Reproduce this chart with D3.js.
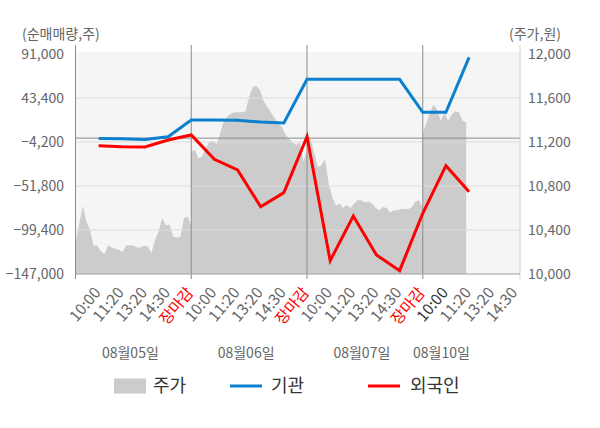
<!DOCTYPE html>
<html>
<head>
<meta charset="utf-8">
<script src="https://cdn.jsdelivr.net/npm/d3@7"></script>
<style>
  body { margin: 0; background: #fff; }
  svg { display: block; font-family: "Noto Sans CJK KR", "Noto Sans", sans-serif; }
</style>
</head>
<body>
<div id="chart"></div>
<script>
// Data
const days = ['08월05일', '08월06일', '08월07일', '08월10일'];
const slotLabels = [
  '10:00', '11:20', '13:20', '14:30', '장마감',
  '10:00', '11:20', '13:20', '14:30', '장마감',
  '10:00', '11:20', '13:20', '14:30', '장마감',
  '10:00', '11:20', '13:20', '14:30'
];
const leftTicks = [91000, 43400, -4200, -51800, -99400, -147000];
const rightTicks = [12000, 11600, 11200, 10800, 10400, 10000];

// net buying (shares), one value per time slot starting at slot 1
const institution = [-300, -800, -1500, 1500, 19600, 19600, 19300, 17400, 16300,
  63600, 63600, 63600, 63600, 63600, 27900, 27900, 87400];
const foreign = [-8200, -9300, -9600, -2000, 3400, -22900, -34500, -74200, -59000,
  1500, -132600, -84300, -126400, -143400, -81300, -29800, -58000];

// intraday price (won), 32 steps per trading day
const priceDay1 = [10280, 10450, 10620, 10480, 10400, 10260, 10260, 10210, 10180, 10260, 10240,
  10230, 10220, 10200, 10260, 10260, 10260, 10240, 10240, 10260, 10250, 10190, 10310,
  10390, 10510, 10440, 10450, 10340, 10330, 10340, 10510, 10520, 10440];
const priceDay2 = [11110, 11130, 11050, 11070, 11140, 11200, 11210, 11180, 11280, 11390, 11430,
  11460, 11470, 11470, 11470, 11480, 11610, 11700, 11710, 11670, 11570, 11520, 11470,
  11420, 11370, 11340, 11270, 11230, 11200, 11170, 11200, 11020, 11130];
const priceDay3 = [11280, 11230, 11100, 10970, 10990, 11040, 10820, 10700, 10620, 10640, 10600,
  10630, 10600, 10640, 10670, 10670, 10650, 10660, 10640, 10600, 10580, 10610, 10600,
  10560, 10580, 10580, 10590, 10590, 10590, 10610, 10660, 10670, 10600];
const priceDay4 = [11280, 11370, 11470, 11540, 11490, 11390, 11470, 11390, 11450, 11480, 11470,
  11390, 11380];

const priceDays = [priceDay1, priceDay2, priceDay3, priceDay4];
const slotsPerDay = 5;
const stepsPerDay = 32;

const priceData = priceDays.flatMap((prices, d) => prices.map((p, k) => ({
  slot: d * slotsPerDay + k * slotsPerDay / stepsPerDay,
  price: p
})));
const instData = institution.map((v, i) => ({ slot: i + 1, value: v }));
const foreignData = foreign.map((v, i) => ({ slot: i + 1, value: v }));

// Dimensions
const dimensions = {
  width: 600,
  height: 428,
  left: 75.5,
  right: 520,
  top: 54,
  bottom: 274
};

const svg = d3.select('#chart')
  .append('svg')
  .attr('width', dimensions.width)
  .attr('height', dimensions.height);

// Scales
const xScale = d3.scaleLinear()
  .domain([0, 19.2])
  .range([dimensions.left, dimensions.right]);

const yLeft = d3.scaleLinear()
  .domain([-147000, 91000])
  .range([dimensions.bottom, dimensions.top]);

const yRight = d3.scaleLinear()
  .domain([10000, 12000])
  .range([dimensions.bottom, dimensions.top]);

// Plot background
svg.append('rect')
  .attr('x', dimensions.left)
  .attr('y', dimensions.top - 2)
  .attr('width', dimensions.right - dimensions.left)
  .attr('height', dimensions.bottom - dimensions.top + 2)
  .attr('fill', '#f5f5f5');

// Price area
const area = d3.area()
  .x(d => xScale(d.slot))
  .y0(dimensions.bottom)
  .y1(d => yRight(d.price));

svg.append('path')
  .datum(priceData)
  .attr('d', area)
  .attr('fill', '#cccccc');

// Grid lines
svg.append('g')
  .selectAll('line')
  .data(leftTicks.slice(1, -1))
  .join('line')
  .attr('x1', dimensions.left)
  .attr('x2', dimensions.right)
  .attr('y1', d => yLeft(d))
  .attr('y2', d => yLeft(d))
  .attr('stroke', '#dddddd')
  .attr('stroke-width', 1);

// zero line
svg.append('line')
  .attr('x1', dimensions.left)
  .attr('x2', dimensions.right)
  .attr('y1', yLeft(0))
  .attr('y2', yLeft(0))
  .attr('stroke', '#8c8c8c')
  .attr('stroke-width', 1);

// day separators + left axis line
svg.append('g')
  .selectAll('line')
  .data(d3.range(0, days.length).map(d => d * slotsPerDay))
  .join('line')
  .attr('x1', d => xScale(d))
  .attr('x2', d => xScale(d))
  .attr('y1', 45)
  .attr('y2', dimensions.bottom + 5)
  .attr('stroke', '#8c8c8c')
  .attr('stroke-width', 1);

// right axis line
svg.append('line')
  .attr('x1', dimensions.right)
  .attr('x2', dimensions.right)
  .attr('y1', 45)
  .attr('y2', dimensions.bottom + 5)
  .attr('stroke', '#d0d0d0');

// bottom axis line
svg.append('line')
  .attr('x1', dimensions.left)
  .attr('x2', dimensions.right)
  .attr('y1', dimensions.bottom)
  .attr('y2', dimensions.bottom)
  .attr('stroke', '#a0a0a0');

// Lines
const lineGenerator = d3.line()
  .x(d => xScale(d.slot))
  .y(d => yLeft(d.value));

svg.append('path')
  .datum(instData)
  .attr('d', lineGenerator)
  .attr('fill', 'none')
  .attr('stroke', '#0a80cf')
  .attr('stroke-width', 3);

svg.append('path')
  .datum(foreignData)
  .attr('d', lineGenerator)
  .attr('fill', 'none')
  .attr('stroke', '#ff0000')
  .attr('stroke-width', 3);

// Y axes
const leftAxis = d3.axisLeft(yLeft)
  .tickValues(leftTicks)
  .tickFormat(d3.format(','))
  .tickSize(0)
  .tickPadding(0);

svg.append('g')
  .attr('transform', `translate(64, 0)`)
  .call(leftAxis)
  .call(g => g.select('.domain').remove())
  .selectAll('text')
  .attr('font-size', '14px')
  .attr('font-family', '"Noto Sans CJK KR", "Noto Sans", sans-serif')
  .attr('fill', '#666');

const rightAxis = d3.axisRight(yRight)
  .tickValues(rightTicks)
  .tickFormat(d3.format(','))
  .tickSize(0)
  .tickPadding(0);

svg.append('g')
  .attr('transform', `translate(528, 0)`)
  .call(rightAxis)
  .call(g => g.select('.domain').remove())
  .selectAll('text')
  .attr('font-size', '14px')
  .attr('font-family', '"Noto Sans CJK KR", "Noto Sans", sans-serif')
  .attr('fill', '#666');

// Axis titles
svg.append('text')
  .attr('x', 22)
  .attr('y', 39)
  .attr('font-size', '14px')
  .attr('fill', '#666')
  .text('(순매매량,주)');

svg.append('text')
  .attr('x', 509)
  .attr('y', 39)
  .attr('font-size', '14px')
  .attr('fill', '#666')
  .text('(주가,원)');

// X labels
svg.append('g')
  .selectAll('text')
  .data(slotLabels)
  .join('text')
  .attr('transform', (d, i) => `translate(${xScale(i + 1) + 3}, 293) rotate(-50)`)
  .attr('text-anchor', 'end')
  .attr('font-size', '15.5px')
  .attr('fill', (d, i) => d === '장마감' ? '#ff0000' : (i === 15 ? '#333' : '#666'))
  .text(d => d);

// Date labels
svg.append('g')
  .selectAll('text')
  .data(days)
  .join('text')
  .attr('x', (d, i) => {
    const start = i * slotsPerDay;
    const end = start + (priceDays[i].length - 1) * slotsPerDay / stepsPerDay;
    return xScale((start + end) / 2) - 3;
  })
  .attr('y', 358)
  .attr('text-anchor', 'middle')
  .attr('font-size', '14px')
  .attr('fill', '#666')
  .text(d => d);

// Legend
const legend = svg.append('g');
legend.append('rect')
  .attr('x', 114).attr('y', 378.5)
  .attr('width', 32).attr('height', 15)
  .attr('fill', '#cccccc');
legend.append('line')
  .attr('x1', 230).attr('x2', 262)
  .attr('y1', 386).attr('y2', 386)
  .attr('stroke', '#0a80cf').attr('stroke-width', 3);
legend.append('line')
  .attr('x1', 368).attr('x2', 400)
  .attr('y1', 386).attr('y2', 386)
  .attr('stroke', '#ff0000').attr('stroke-width', 3);

[['주가', 153], ['기관', 271], ['외국인', 410]].forEach(([label, x]) => {
  legend.append('text')
    .attr('x', x)
    .attr('y', 386)
    .attr('dy', '0.35em')
    .attr('font-size', '18px')
    .attr('fill', '#333')
    .text(label);
});
</script>
</body>
</html>
